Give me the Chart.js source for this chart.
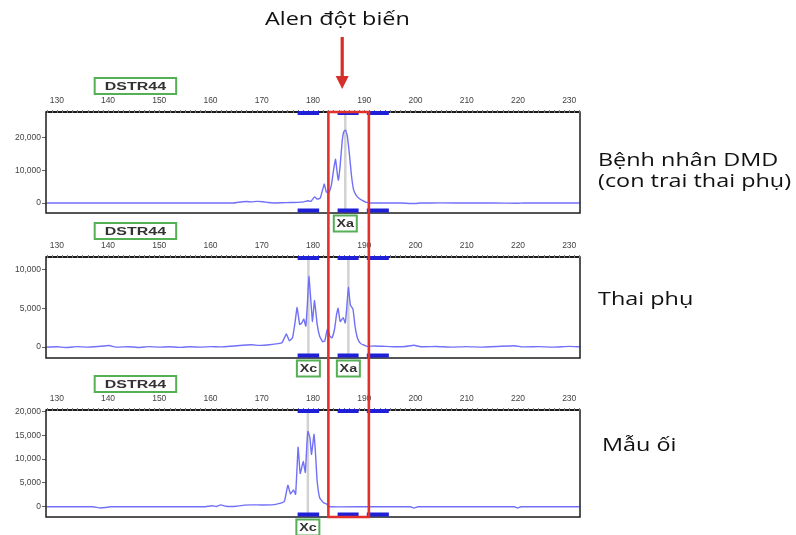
<!DOCTYPE html>
<html>
<head>
<meta charset="utf-8">
<script src="https://cdn.jsdelivr.net/npm/chart.js@4.4.1/dist/chart.umd.min.js"></script>
<style>
  html, body { margin: 0; padding: 0; background: #fff; }
  #wrap { position: relative; width: 796px; height: 535px; overflow: hidden; background: #fff; }
  canvas { position: absolute; left: 0; }
  .txt { position: absolute; font-family: "Open Sans", "Noto Sans", sans-serif; font-size: 18px;
         line-height: 21px; color: #111; white-space: nowrap; transform: scaleX(1.3); transform-origin: 0 0; }
</style>
</head>
<body>
<div id="wrap">
  <canvas id="p1" width="796" height="240" style="top:0px"></canvas>
  <canvas id="p2" width="796" height="175" style="top:215px"></canvas>
  <canvas id="p3" width="796" height="170" style="top:365px"></canvas>
  <div class="txt" style="left:265px; top:8px;">Alen đột biến</div>
  <div class="txt" style="left:598px; top:149px;">Bệnh nhân DMD<br>(con trai thai phụ)</div>
  <div class="txt" style="left:598px; top:288px;">Thai phụ</div>
  <div class="txt" style="left:602px; top:434px;">Mẫu ối</div>
</div>
<script>
// Fragment sizes (bp) shown on the top axis of every panel
const sizeTicks = [130, 140, 150, 160, 170, 180, 190, 200, 210, 220, 230];

// Panel 1: DMD patient (son) — size (bp) vs signal (RFU)
const sizes1 = [128, 131, 134, 137, 140, 143, 146, 150, 154, 158, 162, 164.5, 165.5, 167, 168, 169, 170.3, 171.2, 172.3,
  174, 175.5, 177, 178.2, 179, 179.6, 180.3, 180.8, 181.4, 181.9, 182.2, 182.6, 183.1, 183.6, 184.0, 184.4, 184.75,
  184.95, 185.3, 185.7, 186.0, 186.35, 186.7, 187.1, 187.5, 187.9, 188.4, 189.0, 189.6, 190.3, 191, 194, 197, 200,
  201, 205, 210, 215, 220, 221, 226, 232];
const rfu1 = [0, 0, 30, 0, 60, 0, 0, 20, 0, 0, 30, 0, 250, 450, 350, 500, 400, 150, 0,
  80, 150, 200, 350, 700, 500, 1900, 1200, 1500, 4200, 5800, 3400, 3200, 5600, 10000, 13400, 8800,
  7000, 11500, 19000, 21800, 22300, 20500, 15000, 8500, 4200, 2400, 1400, 800, 250, 0, 30, 0, -150,
  0, 40, 0, 20, -80, 0, 20, 0];

// Panel 2: pregnant mother
const sizes2 = [128, 130, 132, 134, 136, 138, 140.2, 141.5, 144, 146, 148, 150, 152, 154, 156, 158, 160, 162, 164,
  166.3, 168, 169.8, 171.5, 173.2, 174.0, 174.8, 175.4, 176.0, 176.5, 176.9, 177.4, 177.8, 178.2, 178.6, 178.9, 179.2,
  179.6, 179.9, 180.3, 180.8, 181.3, 181.9, 182.3, 182.8, 183.3, 183.7, 184.2, 184.6, 184.9, 185.3, 185.9, 186.3,
  186.6, 186.9, 187.3, 187.8, 188.2, 188.7, 189.3, 190, 190.6, 192, 194, 196, 198, 199.7, 201, 204, 207, 210, 213,
  216, 219.3, 221, 224, 227, 230, 232];
const rfu2 = [0, 50, -50, 60, 0, 80, 200, 0, 50, -40, 60, 0, 50, -30, 40, 0, 70, 30, 120,
  250, 300, 220, 300, 450, 600, 1700, 800, 1200, 3200, 5100, 2900, 3100, 3600, 2700, 5500, 9100,
  5800, 3300, 6000, 3000, 1400, 700, 800, 2300, 1400, 1200, 2300, 4200, 5000, 3300, 3800, 3100,
  5200, 7700, 5400, 4900, 2700, 1100, 450, 250, 100, 150, 100, 50, 80, 250, 50, 80, 0, 60, 0,
  80, 180, 30, 60, 0, 90, 40];

// Panel 3: amniotic fluid sample
const sizes3 = [128, 133, 137, 138.5, 139.5, 140.5, 145, 150, 155, 159, 160.3, 161.2, 162, 163, 165, 166.6, 168, 170,
  172, 173.5, 174.4, 175.1, 175.6, 176.2, 176.6, 176.9, 177.1, 177.5, 178.1, 178.5, 178.8, 179.0, 179.4, 179.7,
  180.0, 180.2, 180.5, 180.8, 181.3, 182.0, 182.6, 183.3, 190, 199, 199.7, 200.5, 210, 219.3, 219.9, 220.6, 232];
const rfu3 = [0, 0, 0, -250, -150, 0, 0, 0, 0, 0, 200, 50, 400, 100, 100, 350, 400, 380,
  400, 700, 1100, 4500, 2700, 3500, 2600, 8500, 12500, 7000, 9500, 7200, 13000, 15800, 14500, 11000,
  13500, 15200, 11000, 5500, 1900, 900, 600, 0, 0, 0, -250, 0, 0, 0, -250, 0, 0];

// Signal axis ticks per panel
const yTicks1 = [0, 10000, 20000];
const yTicks2 = [0, 5000, 10000];
const yTicks3 = [0, 5000, 10000, 15000, 20000];

// Allele bins (bp) marked along the panel edges
const binRanges = [[177.0, 181.2], [184.8, 188.9], [190.5, 194.8]];

// Called alleles per panel
const alleles1 = [186.3];       const alleleNames1 = ['Xa'];
const alleles2 = [179.1, 186.9]; const alleleNames2 = ['Xc', 'Xa'];
const alleles3 = [179.0];       const alleleNames3 = ['Xc'];

// Marker name and the mutant-allele window highlighted across the panels
const markerName = 'DSTR44';
const markerSpan = [137.4, 153.3];
const mutantWindow = [183.0, 190.9];
const arrowAt = 185.7;

const X_MIN = 127.9, X_MAX = 232.1;
const RED = '#e2312a';
const GREEN = '#55b055';

function greenTag(ctx, x0, x1, y0, h, text, fontSize, stretch) {
  ctx.save();
  ctx.fillStyle = '#fff';
  ctx.fillRect(x0, y0, x1 - x0, h);
  ctx.strokeStyle = GREEN;
  ctx.lineWidth = 2;
  ctx.strokeRect(x0, y0, x1 - x0, h);
  ctx.translate((x0 + x1) / 2, y0 + h / 2 + 0.5);
  ctx.scale(stretch, 1);
  ctx.fillStyle = '#333';
  ctx.font = 'bold ' + fontSize + 'px Arial, "Liberation Sans", sans-serif';
  ctx.textAlign = 'center';
  ctx.textBaseline = 'middle';
  ctx.fillText(text, 0, 0);
  ctx.restore();
}

function decor(cfg) {
  return {
    id: 'decor',
    beforeDatasetsDraw(chart) {
      const { ctx, chartArea: a, scales: { x } } = chart;
      ctx.save();
      ctx.strokeStyle = '#d2d2d2';
      ctx.lineWidth = 2.5;
      cfg.alleles.forEach(v => {
        const px = x.getPixelForValue(v);
        ctx.beginPath(); ctx.moveTo(px, a.top); ctx.lineTo(px, a.bottom); ctx.stroke();
      });
      ctx.restore();
    },
    afterDatasetsDraw(chart) {
      const { ctx, chartArea: a, scales: { x } } = chart;
      ctx.save();
      // frame
      ctx.strokeStyle = '#1c1c1c';
      ctx.lineWidth = 1.5;
      ctx.strokeRect(a.left, a.top, a.right - a.left, a.bottom - a.top);
      ctx.lineWidth = 2;
      ctx.beginPath(); ctx.moveTo(a.left, a.top); ctx.lineTo(a.right, a.top); ctx.stroke();
      // minor size ticks on the top edge
      ctx.strokeStyle = '#777';
      ctx.lineWidth = 1;
      for (let s = 128; s <= 232; s += 1) {
        const px = Math.round(x.getPixelForValue(s)) + 0.5;
        ctx.beginPath(); ctx.moveTo(px, a.top - 2); ctx.lineTo(px, a.top + 1); ctx.stroke();
      }
      // allele bins
      ctx.fillStyle = '#1f1fd8';
      binRanges.forEach(([b0, b1]) => {
        const p0 = x.getPixelForValue(b0), p1 = x.getPixelForValue(b1);
        ctx.fillRect(p0, a.top - 1, p1 - p0, 4);
        ctx.fillRect(p0, a.bottom - 4.5, p1 - p0, 4);
      });
      ctx.restore();
      // allele call tags below the frame
      cfg.alleles.forEach((v, i) => {
        const px = x.getPixelForValue(v);
        greenTag(ctx, px - 11.5, px + 11.5, a.bottom + 2.5, 16, cfg.names[i], 11, 1.3);
      });
      // marker tag above the size axis
      greenTag(ctx, x.getPixelForValue(markerSpan[0]), x.getPixelForValue(markerSpan[1]),
        a.top - 34, 16, markerName, 11, 1.45);
    },
    afterDraw(chart) {
      const { ctx, chartArea: a, scales: { x } } = chart;
      const l = x.getPixelForValue(mutantWindow[0]);
      const r = x.getPixelForValue(mutantWindow[1]);
      const y0 = cfg.redTop === 'box' ? a.top : cfg.redTop;
      const y1 = cfg.redBottom === 'box' ? a.bottom : cfg.redBottom;
      ctx.save();
      ctx.strokeStyle = RED;
      ctx.lineWidth = 2.6;
      ctx.lineCap = 'butt';
      ctx.beginPath();
      ctx.moveTo(l, y0); ctx.lineTo(l, y1);
      ctx.moveTo(r, y0); ctx.lineTo(r, y1);
      ctx.stroke();
      if (cfg.redTop === 'box') {
        ctx.beginPath(); ctx.moveTo(l - 1.3, a.top); ctx.lineTo(r + 1.3, a.top); ctx.stroke();
      }
      if (cfg.redBottom === 'box') {
        ctx.beginPath(); ctx.moveTo(l - 1.3, a.bottom); ctx.lineTo(r + 1.3, a.bottom); ctx.stroke();
      }
      if (cfg.arrow) {
        const ax = x.getPixelForValue(arrowAt);
        ctx.fillStyle = '#d42f2a';
        ctx.fillRect(ax - 1.6, a.top - 75, 3.2, 42);
        ctx.beginPath();
        ctx.moveTo(ax - 6.5, a.top - 36);
        ctx.lineTo(ax + 6.5, a.top - 36);
        ctx.lineTo(ax, a.top - 23);
        ctx.closePath();
        ctx.fill();
      }
      ctx.restore();
    }
  };
}

function panel(id, cfg) {
  const pts = cfg.sizes.map((s, i) => ({ x: s, y: cfg.rfu[i] }));
  const tickFont = { family: 'Arial, "Liberation Sans", sans-serif', size: 8.5 };
  return new Chart(document.getElementById(id), {
    type: 'line',
    data: {
      datasets: [{
        data: pts, borderColor: '#7070f8', borderWidth: 1.4, pointRadius: 0,
        tension: 0.12, fill: false
      }]
    },
    options: {
      responsive: false, animation: false, events: [],
      layout: { padding: { left: 0, right: 216, top: 0, bottom: cfg.padBottom } },
      plugins: { legend: { display: false }, tooltip: { enabled: false } },
      scales: {
        x: {
          type: 'linear', position: 'top', min: X_MIN, max: X_MAX,
          afterBuildTicks: s => { s.ticks = sizeTicks.map(v => ({ value: v })); },
          afterFit: s => { s.height = cfg.axisTop; },
          grid: { display: false, drawTicks: false },
          border: { display: false },
          ticks: { padding: 6, color: '#444', font: tickFont, maxRotation: 0, autoSkip: false }
        },
        y: {
          min: cfg.yMin, max: cfg.yMax,
          afterBuildTicks: s => { s.ticks = cfg.yTicks.map(v => ({ value: v })); },
          afterFit: s => { s.width = 46; },
          grid: { drawOnChartArea: false, drawTicks: true, tickLength: 4, color: '#666' },
          border: { display: false },
          ticks: { padding: 1, color: '#444', font: tickFont, autoSkip: false,
                   callback: v => v.toLocaleString('en-US') }
        }
      }
    },
    plugins: [decor(cfg)]
  });
}

panel('p1', { sizes: sizes1, rfu: rfu1, yMin: -3050, yMax: 27850, yTicks: yTicks1,
  alleles: alleles1, names: alleleNames1, axisTop: 112, padBottom: 27,
  redTop: 'box', redBottom: 236, arrow: true });
panel('p2', { sizes: sizes2, rfu: rfu2, yMin: -1400, yMax: 11600, yTicks: yTicks2,
  alleles: alleles2, names: alleleNames2, axisTop: 42, padBottom: 32,
  redTop: 21, redBottom: 171 });
panel('p3', { sizes: sizes3, rfu: rfu3, yMin: -2150, yMax: 20300, yTicks: yTicks3,
  alleles: alleles3, names: alleleNames3, axisTop: 45, padBottom: 18,
  redTop: 21, redBottom: 'box' });
</script>
</body>
</html>
